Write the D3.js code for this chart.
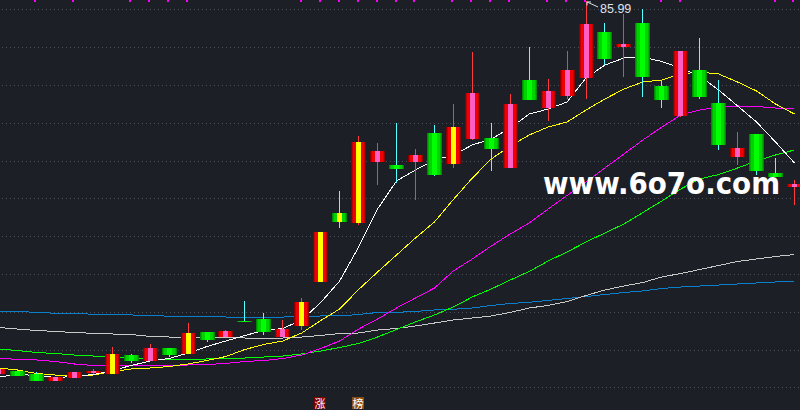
<!DOCTYPE html>
<html><head><meta charset="utf-8">
<script src="https://cdn.jsdelivr.net/npm/d3@7/dist/d3.min.js"></script>
<style>html,body{margin:0;padding:0;background:#1c1f26;overflow:hidden}svg{display:block}</style>
</head><body><svg id="c" width="800" height="410"></svg>
<script>
// ---- data ----
const days = d3.range(43); // trading-day index, left to right
const openP  = [36.97,37.37,36.97,36.05,36.45,37.11,36.97,39.47,38.68,40.39,39.61,42.50,41.84,43.95,44.21,41.84,43.29,49.08,58.16,56.84,64.87,64.47,64.87,68.68,64.61,67.89,68.03,64.08,75.66,71.97,73.55,75.92,81.97,80.00,83.16,74.87,70.92,76.97,72.63,65.53,68.55,63.42,61.58];
const highP  = [37.76,37.63,37.24,36.58,37.24,37.63,40.53,39.61,40.92,40.39,43.68,42.50,42.76,46.58,45.00,44.08,46.97,55.66,61.05,68.29,67.37,70.00,66.58,69.74,72.50,79.34,70.00,73.82,80.00,75.79,79.47,85.99,83.16,84.34,85.00,75.66,79.47,81.18,75.66,68.82,68.55,65.39,62.50];
const lowP   = [36.84,36.71,36.05,36.05,36.45,36.97,36.97,38.42,38.68,39.21,39.61,41.18,41.84,43.82,42.11,41.84,42.76,49.08,56.18,56.58,61.84,62.11,59.87,63.03,64.08,67.76,63.68,64.08,73.03,70.26,73.16,73.16,77.63,76.05,73.42,71.97,70.79,73.16,66.45,64.47,63.16,62.89,59.21];
const closeP = [37.63,36.71,36.05,36.58,37.24,37.37,39.61,38.68,40.39,39.47,42.37,41.45,42.63,43.82,42.50,42.89,46.45,55.66,56.97,67.50,66.32,63.95,65.79,63.16,69.47,73.95,66.58,72.50,73.03,74.21,76.97,83.03,78.42,80.39,76.05,73.03,79.47,73.42,67.11,66.71,63.68,62.89,61.97];
const limitDays  = [6,10,16,17,18,19,24];            // candles drawn with yellow core
const signalDays = [2,4,7,8,9,10,16,17,18,19,20,21,22,24,25,26,27,29,30,31,35,36,41,42];

const ma5   = [36.58,36.91,36.78,36.51,36.65,36.91,37.43,38.09,38.68,39.01,39.74,40.59,41.32,42.04,42.70,42.96,44.08,46.38,49.21,53.68,58.68,62.37,63.82,65.13,65.79,67.11,67.89,69.34,71.18,71.84,72.76,75.92,77.63,78.55,78.68,78.09,77.24,76.18,74.34,72.24,70.13,67.50,64.74];
const ma10  = [37.76,37.50,37.04,36.84,36.78,36.84,37.30,37.63,37.76,37.96,38.29,38.75,39.28,40.20,40.86,41.32,42.37,44.01,45.53,48.09,50.39,52.63,54.87,56.97,59.93,62.76,65.26,66.97,68.42,69.47,70.13,71.71,73.16,74.47,75.39,75.66,76.45,76.71,76.45,75.39,74.21,72.50,71.18];
const ma20  = [39.08,38.88,38.82,38.62,38.29,38.09,38.03,38.03,38.03,38.03,38.16,38.22,38.36,38.62,38.75,39.01,39.47,40.33,41.32,42.89,44.21,45.66,46.97,48.29,50.53,52.11,53.82,55.39,56.84,58.68,60.46,62.24,64.08,65.92,67.76,69.47,71.05,71.71,72.11,72.24,72.17,71.97,71.97];
const ma30  = [40.26,40.07,39.80,39.67,39.47,39.34,39.21,39.01,38.95,38.82,38.82,38.95,38.95,39.08,39.21,39.34,39.61,40.00,40.46,40.99,41.84,42.83,43.82,44.74,45.79,47.11,48.16,49.34,50.46,51.84,53.03,54.34,55.53,56.71,58.22,59.74,61.32,62.63,63.22,64.08,65.00,65.79,66.45];
const ma60  = [43.09,42.89,42.70,42.57,42.43,42.33,42.24,42.17,41.91,41.84,41.84,41.80,41.78,41.71,41.67,41.71,41.84,42.04,42.30,42.37,42.76,42.96,43.29,43.68,44.08,44.34,44.61,45.07,45.66,45.99,46.51,47.30,48.03,48.55,49.01,49.74,50.20,50.72,51.25,51.78,52.11,52.43,52.70];
const ma120 = [45.22,45.20,45.09,44.96,44.96,44.83,44.83,44.74,44.70,44.57,44.57,44.57,44.47,44.43,44.43,44.47,44.51,44.61,44.61,44.80,45.07,45.09,45.20,45.40,45.49,45.66,45.99,46.25,46.41,46.65,46.91,47.17,47.43,47.70,47.90,48.22,48.42,48.55,48.68,48.82,48.95,49.08,49.21];
const maxLabel = "85.99";
const boardLabels = [{day:17, text:"涨"}, {day:19, text:"榜"}];
const watermark = "www.6o7o.com";

// ---- drawing ----
const W = 800, H = 410;
const svg = d3.select("#c");
svg.append("rect").attr("width", W).attr("height", H).attr("fill", "#1c1f26");

const x = d3.scaleLinear().domain([0, 42]).range([-1.45, 794.45]);
const y = d3.scaleLinear().domain([35, 85]).range([389, 9]);

// grid (evenly spaced rows of the price panel)
const gridRows = d3.range(11).map(k => Math.round(9.3 + k * 37.8) + 0.5);
svg.append("g").selectAll("line").data(gridRows).join("line")
  .attr("x1", 2).attr("x2", W).attr("y1", d => d).attr("y2", d => d)
  .attr("stroke", "#4a4f59").attr("stroke-width", 1)
  .attr("stroke-dasharray", "1,3").attr("shape-rendering", "crispEdges");

// gradients
const defs = svg.append("defs");
function grad(id, edge, mid, main, core) {
  const g = defs.append("linearGradient").attr("id", id)
    .attr("x1", 0).attr("x2", 1).attr("y1", 0).attr("y2", 0);
  const s = [[0,edge],[1/15,edge],[1/15,mid],[2/15,mid],[2/15,main],[5/15,main],[5/15,core],
             [10/15,core],[10/15,main],[13/15,main],[13/15,mid],[14/15,mid],[14/15,edge],[1,edge]];
  s.forEach(([o,c]) => g.append("stop").attr("offset", o).attr("stop-color", c));
}
grad("gUp", "#8a0000", "#c00000", "#f00000", "#ff5ec4");
grad("gUpLim", "#8a0000", "#c00000", "#f00000", "#ffff00");
grad("gDn", "#008a00", "#00b000", "#00d400", "#00ff00");
grad("gDnLim", "#008a00", "#00b000", "#00d400", "#ffff00");

// moving-average lines
const lines = [
  {v: ma120, c: "#0a80cc"},
  {v: ma60,  c: "#c8c8c8"},
  {v: ma30,  c: "#00ff00"},
  {v: ma20,  c: "#ff00ff"},
  {v: ma10,  c: "#ffff00"},
  {v: ma5,   c: "#ffffff"}
];
const lineGen = d3.line().x((d, i) => x(days[i])).y(d => y(d));
svg.append("g").selectAll("path").data(lines).join("path")
  .attr("d", d => lineGen(d.v)).attr("fill", "none")
  .attr("stroke", d => d.c).attr("stroke-width", 1)
  .attr("shape-rendering", "crispEdges");

// candles
const candles = days.map(i => ({i, o: openP[i], h: highP[i], l: lowP[i], c: closeP[i],
  up: closeP[i] >= openP[i], lim: limitDays.includes(i)}));
const cg = svg.append("g");
candles.forEach(d => {
  const bx = Math.round(x(d.i) - 7.5);
  const wx = bx + 7.5;
  const yTop = Math.round(y(Math.max(d.o, d.c)));
  const yBot = Math.round(y(Math.min(d.o, d.c)));
  const yH = Math.round(y(d.h)), yL = Math.round(y(d.l));
  const wickCol = d.up ? "#ff3b3b" : "#54ffff";
  if (yH < yTop) cg.append("line").attr("x1", wx).attr("x2", wx).attr("y1", yH).attr("y2", yTop)
      .attr("stroke", wickCol).attr("shape-rendering", "crispEdges");
  if (yL > yBot) cg.append("line").attr("x1", wx).attr("x2", wx).attr("y1", yBot).attr("y2", yL)
      .attr("stroke", wickCol).attr("shape-rendering", "crispEdges");
  const fill = d.up ? (d.lim ? "url(#gUpLim)" : "url(#gUp)") : (d.lim ? "url(#gDnLim)" : "url(#gDn)");
  cg.append("rect").attr("x", bx).attr("y", yTop).attr("width", 15)
    .attr("height", Math.max(1, yBot - yTop)).attr("fill", fill)
    .attr("shape-rendering", "crispEdges");
});

// signal markers along the top edge
svg.append("g").selectAll("rect").data(signalDays).join("rect")
  .attr("x", d => Math.round(x(d)) - 2).attr("y", 0).attr("width", 2).attr("height", 2)
  .attr("fill", "#ff00ff").attr("shape-rendering", "crispEdges");

// max price annotation
const maxIdx = d3.maxIndex(highP);
const ax = x(days[maxIdx]) + 1, ay = y(highP[maxIdx]) + 0.5;
const ann = svg.append("g").attr("stroke", "#d8dde6").attr("stroke-width", 1).attr("fill", "none");
ann.append("path").attr("d", `M${ax + 11},${ay + 5} L${ax},${ay} M${ax},${ay} L${ax + 4},${ay} M${ax},${ay} L${ax},${ay + 3.5}`);
svg.append("text").attr("x", ax + 13).attr("y", 13).text(maxLabel)
  .attr("fill", "#dfe3ea").attr("font-family", "Liberation Sans, Arial, sans-serif").attr("font-size", 12.5);

// board labels under limit-up candles
const bl = svg.append("g");
boardLabels.forEach((b, k) => {
  const cx = Math.round(x(b.day));
  bl.append("rect").attr("x", cx - 7).attr("y", 397).attr("width", 12).attr("height", 12)
    .attr("fill", k === 0 ? "#7c0000" : "#8a4a10");
  bl.append("text").attr("x", cx - 1).attr("y", 407.5).attr("text-anchor", "middle")
    .attr("fill", "#ffffff").attr("font-size", 11)
    .attr("font-family", "Noto Sans CJK SC, sans-serif").text(b.text);
});

// watermark
svg.append("text").attr("x", 543).attr("y", 194).text(watermark)
  .attr("fill", "#ffffff").attr("font-family", "DejaVu Sans, sans-serif")
  .attr("font-weight", "bold").attr("font-size", 30)
  .attr("textLength", 237).attr("lengthAdjust", "spacingAndGlyphs");
</script>
</body></html>
